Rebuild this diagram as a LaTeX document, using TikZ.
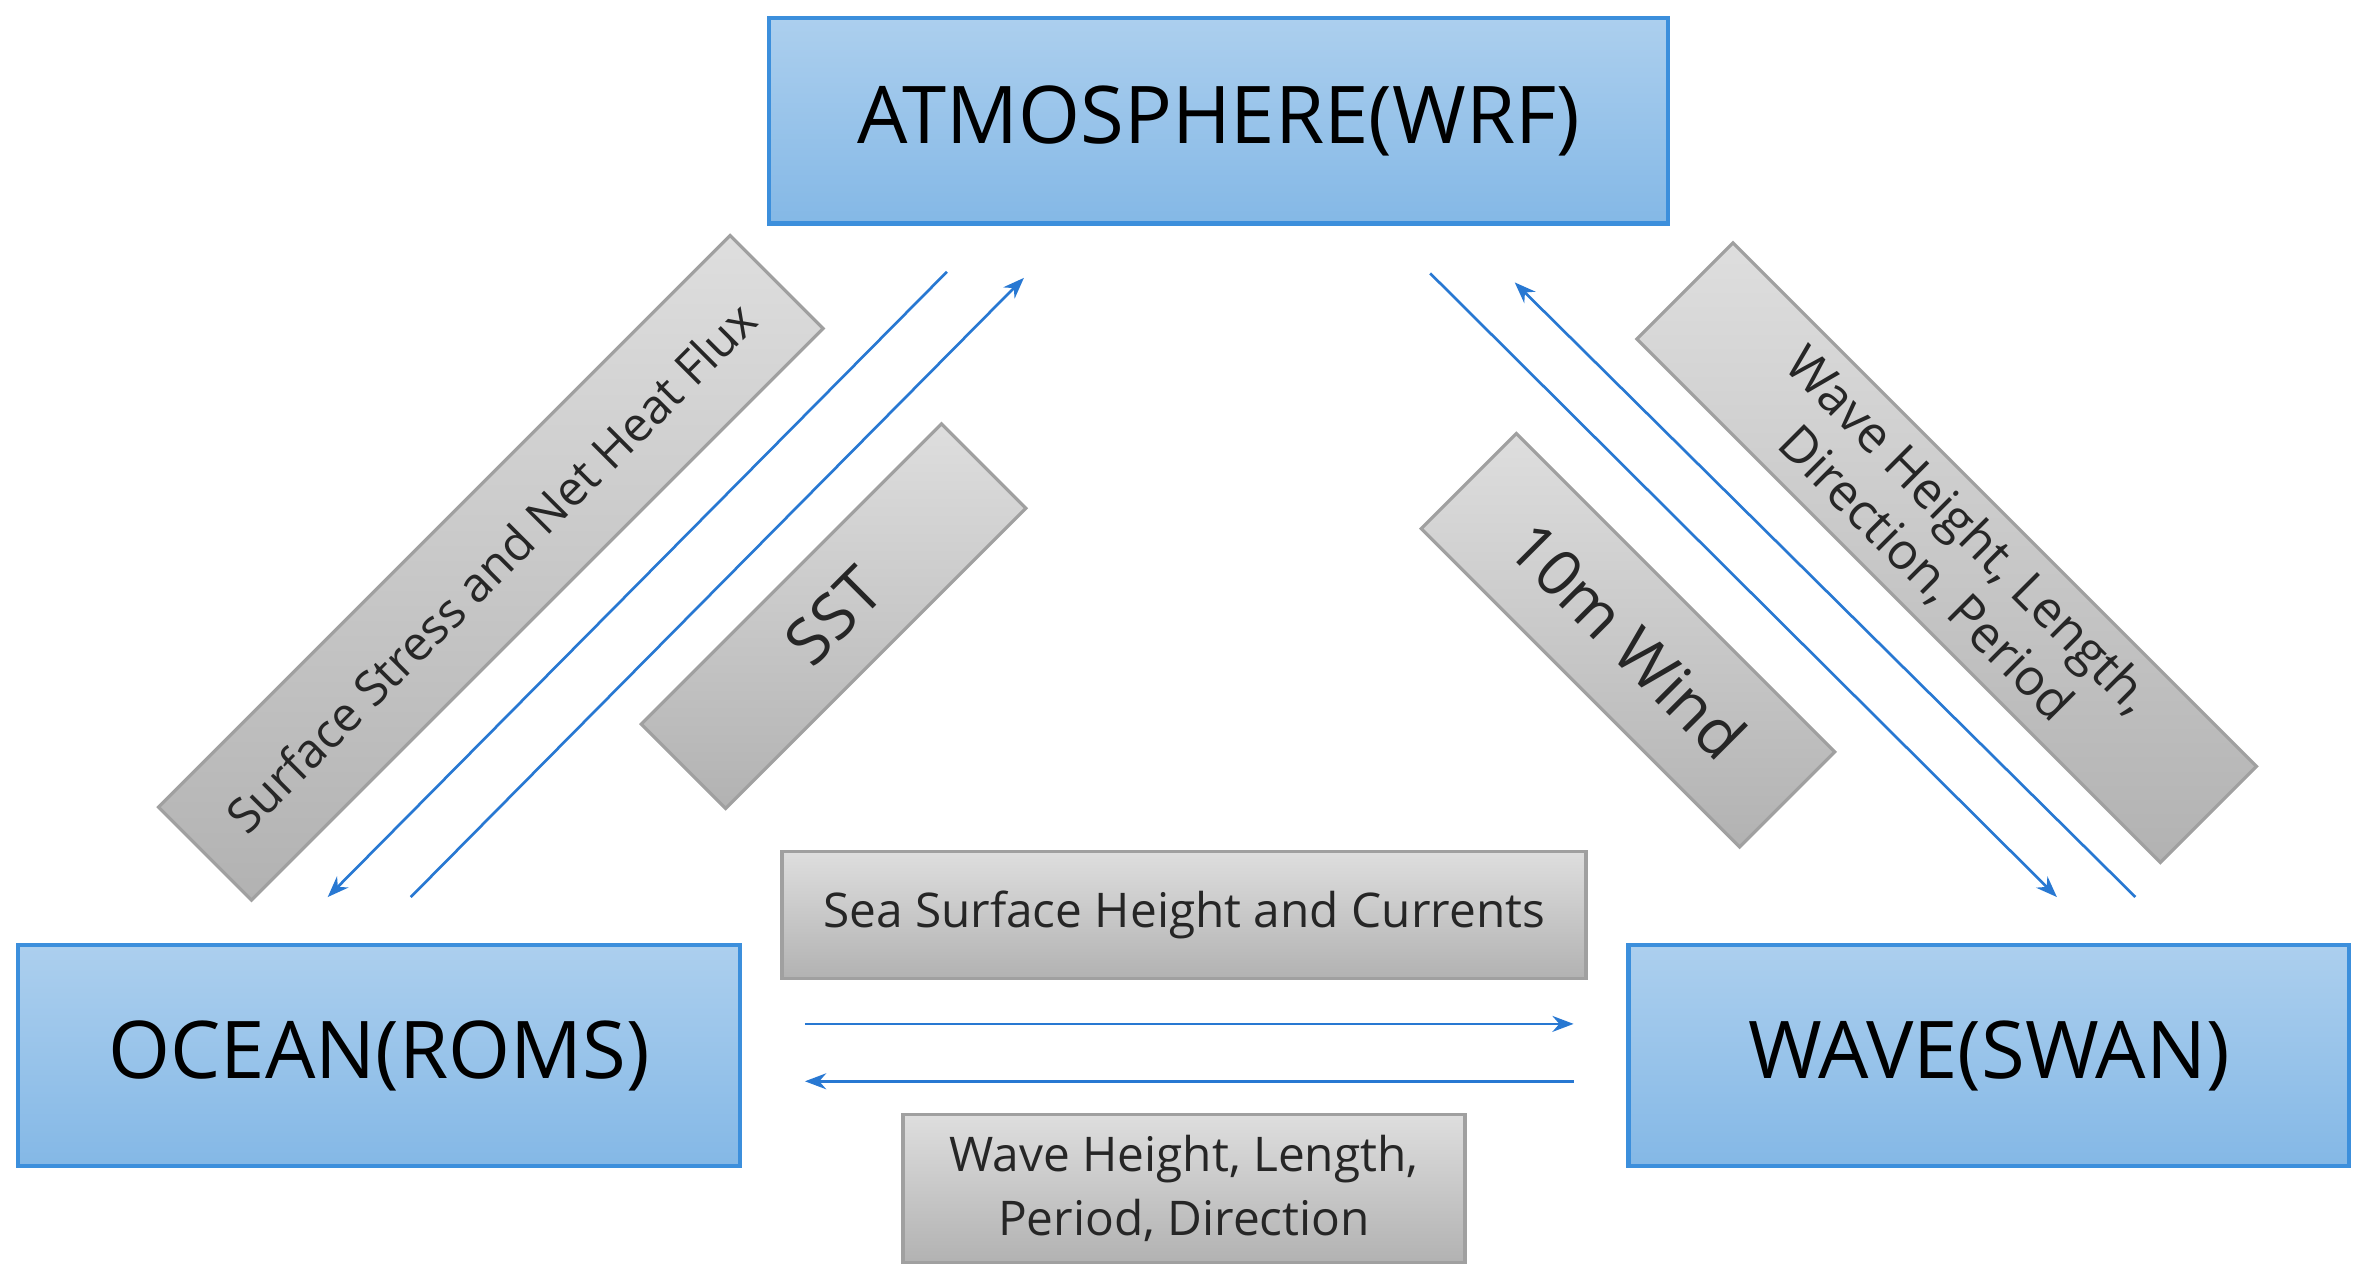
\documentclass[tikz,border=0pt]{standalone}
\usepackage{fontspec}
\setmainfont{Open Sans}
\usetikzlibrary{arrows.meta, positioning}
\definecolor{modelblue}{RGB}{60,143,220}
\definecolor{modeltop}{RGB}{172,207,238}
\definecolor{modelbot}{RGB}{132,184,230}
\definecolor{fluxtop}{RGB}{222,222,222}
\definecolor{fluxbot}{RGB}{178,178,178}
\definecolor{fluxedge}{RGB}{160,160,160}
\definecolor{linkblue}{RGB}{40,120,210}

\begin{document}
\begin{tikzpicture}[x=0.01cm, y=-0.01cm,
    model/.style={draw=modelblue, line width=0.8pt, top color=modeltop, bottom color=modelbot,
        inner sep=0pt, font=\fontsize{15}{17}\selectfont},
    flux/.style={draw=fluxedge, line width=0.6pt, top color=fluxtop, bottom color=fluxbot,
        inner sep=0pt, align=center, text=black!85},
    link/.style={draw=linkblue, line width=0.5pt, -{Stealth[length=4pt, width=3pt]}}]
        \useasboundingbox (0,0) rectangle (1568,849);

        \node[model, minimum width=5.95cm, minimum height=1.36cm] (atm) at (807,80) {ATMOSPHERE(WRF)};
        \node[model, minimum width=4.78cm, minimum height=1.46cm] (ocn) at (251,699) {OCEAN(ROMS)};
        \node[model, minimum width=4.77cm, minimum height=1.46cm] (wav) at (1317,699) {WAVE(SWAN)};

        \node[flux, minimum width=5.35cm, minimum height=0.87cm, rotate=45, font=\fontsize{9}{11}\selectfont] (stress) at (325,376) {Surface Stress and Net Heat Flux};
        \node[flux, minimum width=2.81cm, minimum height=0.79cm, rotate=45, font=\fontsize{12}{14}\selectfont] (sst) at (552,408) {SST};
        \node[flux, minimum width=2.98cm, minimum height=0.89cm, rotate=-45, font=\fontsize{12}{14}\selectfont] (wind) at (1078,424) {10m Wind};
        \node[flux, minimum width=4.9cm, minimum height=0.9cm, rotate=-45, font=\fontsize{9.5}{11.5}\selectfont] (wavup) at (1289,366) {Wave Height, Length,\\Direction, Period};
        \node[flux, minimum width=5.32cm, minimum height=0.84cm, font=\fontsize{9}{11}\selectfont] (ssh) at (784,606) {Sea Surface Height and Currents};
        \node[flux, minimum width=3.72cm, minimum height=0.98cm, font=\fontsize{9}{12}\selectfont] (wavdn) at (784,787) {Wave Height, Length,\\Period, Direction};

        % link end points
        \coordinate (a1) at (627,180);
        \coordinate (o1) at (217,594);
        \coordinate (o2) at (272,594);
        \coordinate (a2) at (678,184);
        \coordinate (a3) at (947,181);
        \coordinate (w1) at (1362,594);
        \coordinate (w2) at (1414,594);
        \coordinate (a4) at (1003,187);
        \coordinate (o3) at (533,678);
        \coordinate (w3) at (1042,678);
        \coordinate (w4) at (1042,716);
        \coordinate (o4) at (533,716);

        \draw[link] (a1) -- (o1);
        \draw[link] (o2) -- (a2);
        \draw[link] (a3) -- (w1);
        \draw[link] (w2) -- (a4);
        \draw[link] (o3) -- (w3);
        \draw[link] (w4) -- (o4);
    \end{tikzpicture}
\end{document}
